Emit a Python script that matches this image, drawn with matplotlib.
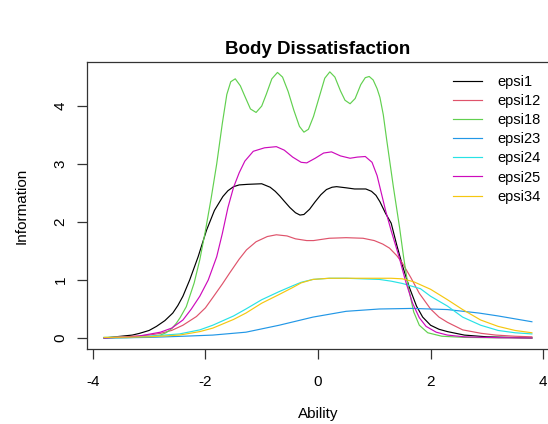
import matplotlib
matplotlib.use("Agg")
import matplotlib.pyplot as plt

# item information curves
x_epsi1 = [-3.8, -3.5, -3.3, -3.17, -3.0, -2.87, -2.72, -2.58, -2.49, -2.4, -2.28, -2.13, -1.98, -1.84,
           -1.69, -1.6, -1.5, -1.4, -1.25, -1.0, -0.85, -0.76, -0.68, -0.6, -0.5, -0.4, -0.32, -0.25,
           -0.15, -0.05, 0.05, 0.15, 0.25, 0.33, 0.5, 0.65, 0.85, 0.95, 1.03, 1.1, 1.2, 1.3, 1.4, 1.5,
           1.62, 1.75, 1.86, 2.0, 2.15, 2.3, 2.6, 3.0, 3.4, 3.8]
y_epsi1 = [0.0, 0.03, 0.05, 0.08, 0.13, 0.2, 0.3, 0.43, 0.56, 0.72, 1.0, 1.4, 1.86, 2.2,
           2.44, 2.54, 2.61, 2.64, 2.65, 2.66, 2.6, 2.53, 2.45, 2.36, 2.25, 2.16, 2.12, 2.13,
           2.22, 2.35, 2.47, 2.56, 2.6, 2.61, 2.59, 2.57, 2.57, 2.53, 2.46, 2.35, 2.15, 1.98, 1.6, 1.25,
           0.88, 0.55, 0.36, 0.22, 0.15, 0.11, 0.05, 0.02, 0.01, 0.0]

x_epsi12 = [-3.8, -3.4, -3.0, -2.8, -2.6, -2.4, -2.16, -2.0, -1.86, -1.7, -1.57, -1.4, -1.27, -1.1, -0.9,
            -0.74, -0.55, -0.4, -0.2, -0.08, 0.2, 0.5, 0.8, 1.0, 1.15, 1.27, 1.4, 1.5, 1.65, 1.8,
            2.0, 2.15, 2.3, 2.57, 2.9, 3.16, 3.5, 3.8]
y_epsi12 = [0.0, 0.02, 0.05, 0.08, 0.13, 0.22, 0.37, 0.52, 0.71, 0.93, 1.12, 1.36, 1.52, 1.66, 1.75,
            1.78, 1.76, 1.71, 1.68, 1.68, 1.72, 1.73, 1.72, 1.68, 1.62, 1.55, 1.42, 1.29, 1.04, 0.77,
            0.5, 0.36, 0.27, 0.14, 0.08, 0.05, 0.03, 0.02]

x_epsi18 = [-3.8, -3.4, -3.0, -2.8, -2.7, -2.6, -2.52, -2.45, -2.34, -2.2, -2.1, -2.0, -1.9, -1.8, -1.7,
            -1.62, -1.55, -1.47, -1.38, -1.3, -1.2, -1.1, -1.0, -0.92, -0.82, -0.72, -0.63, -0.53,
            -0.43, -0.33, -0.25, -0.17, -0.08, 0.02, 0.12, 0.21, 0.3, 0.4, 0.48, 0.57, 0.66, 0.76,
            0.84, 0.91, 0.98, 1.05, 1.1, 1.16, 1.22, 1.34, 1.45, 1.52, 1.6, 1.7, 1.8, 1.95, 2.2,
            2.6, 3.2, 3.8]
y_epsi18 = [0.0, 0.005, 0.02, 0.05, 0.09, 0.16, 0.25, 0.35, 0.54, 0.95, 1.35, 1.85, 2.4, 3.0, 3.7,
            4.2, 4.42, 4.47, 4.35, 4.17, 3.95, 3.89, 4.0, 4.2, 4.47, 4.58, 4.5, 4.25,
            3.93, 3.65, 3.55, 3.6, 3.82, 4.15, 4.48, 4.59, 4.5, 4.26, 4.1, 4.04, 4.13, 4.37,
            4.49, 4.51, 4.45, 4.3, 4.15, 3.85, 3.42, 2.6, 1.9, 1.4, 0.9, 0.45, 0.22, 0.09, 0.03,
            0.01, 0.003, 0.0]

x_epsi23 = [-3.8, -3.0, -2.4, -1.87, -1.28, -0.69, -0.09, 0.5, 1.09, 1.68, 2.3, 2.86, 3.2, 3.5, 3.8]
y_epsi23 = [0.0, 0.01, 0.03, 0.05, 0.1, 0.22, 0.36, 0.46, 0.5, 0.51, 0.49, 0.43, 0.38, 0.33, 0.28]

x_epsi24 = [-3.8, -3.0, -2.46, -2.1, -1.87, -1.5, -1.28, -1.0, -0.69, -0.45, -0.3, -0.09, 0.2, 0.5,
            0.8, 1.09, 1.3, 1.5, 1.82, 2.0, 2.3, 2.57, 2.89, 3.2, 3.5, 3.8]
y_epsi24 = [0.01, 0.03, 0.07, 0.14, 0.22, 0.38, 0.5, 0.66, 0.8, 0.9, 0.96, 1.01, 1.03, 1.03,
            1.02, 1.01, 0.98, 0.94, 0.85, 0.72, 0.55, 0.36, 0.22, 0.13, 0.09, 0.07]

x_epsi25 = [-3.8, -3.2, -2.8, -2.6, -2.4, -2.25, -2.1, -1.95, -1.8, -1.7, -1.6, -1.5, -1.4, -1.3,
            -1.15, -0.95, -0.74, -0.6, -0.45, -0.3, -0.2, -0.05, 0.1, 0.24, 0.4, 0.57, 0.7, 0.84,
            0.96, 1.05, 1.1, 1.2, 1.3, 1.44, 1.55, 1.68, 1.8, 1.92, 2.1, 2.3, 2.6, 3.2, 3.8]
y_epsi25 = [0.0, 0.03, 0.1, 0.17, 0.31, 0.5, 0.72, 1.0, 1.4, 1.8, 2.25, 2.6, 2.85, 3.05,
            3.22, 3.28, 3.3, 3.24, 3.12, 3.03, 3.02, 3.1, 3.19, 3.21, 3.14, 3.1, 3.12, 3.13,
            3.03, 2.8, 2.6, 2.2, 1.85, 1.4, 1.0, 0.6, 0.35, 0.2, 0.1, 0.05, 0.02, 0.005, 0.0]

x_epsi34 = [-3.8, -3.0, -2.46, -2.1, -1.87, -1.5, -1.28, -1.0, -0.69, -0.45, -0.3, -0.09, 0.2, 0.5,
            0.8, 1.09, 1.3, 1.5, 1.7, 2.0, 2.3, 2.57, 2.89, 3.2, 3.5, 3.8]
y_epsi34 = [0.01, 0.02, 0.05, 0.11, 0.17, 0.32, 0.43, 0.6, 0.75, 0.87, 0.95, 1.01, 1.03, 1.03,
            1.03, 1.03, 1.03, 1.02, 0.97, 0.84, 0.66, 0.49, 0.31, 0.2, 0.13, 0.09]

items = ["epsi1", "epsi12", "epsi18", "epsi23", "epsi24", "epsi25", "epsi34"]
xs = [x_epsi1, x_epsi12, x_epsi18, x_epsi23, x_epsi24, x_epsi25, x_epsi34]
ys = [y_epsi1, y_epsi12, y_epsi18, y_epsi23, y_epsi24, y_epsi25, y_epsi34]
colors = ["#000000", "#DF536B", "#61D04F", "#2297E6", "#28E2E5", "#CD0BBC", "#F5C710"]

plt.rcParams["font.family"] = ["Liberation Sans", "DejaVu Sans"]
plt.rcParams["axes.unicode_minus"] = False

fig = plt.figure(figsize=(5.48, 4.24), dpi=100)
ax = fig.add_axes([87 / 548, 75 / 424, 462 / 548, 287 / 424])

for x, y, c, name in zip(xs, ys, colors, items):
    ax.plot(x, y, color=c, lw=0.85, label=name, solid_joinstyle="round")

ax.set_xlim(-4.104, 4.104)
ax.set_ylim(-0.19, 4.76)
ax.set_xticks([-4, -2, 0, 2, 4])
ax.set_yticks([0, 1, 2, 3, 4])
ax.tick_params(direction="out", length=7, width=0.9, color="#333333", labelsize=11)
ax.tick_params(axis="x", pad=12)
ax.tick_params(axis="y", pad=7)
plt.setp(ax.get_yticklabels(), rotation=90, va="center")
for s in ax.spines.values():
    s.set_color("#333333")
    s.set_linewidth(0.9)

ax.set_title("Body Dissatisfaction", fontsize=13.5, fontweight="bold", pad=6)
ax.set_xlabel("Ability", fontsize=11, labelpad=13)
ax.set_ylabel("Information", fontsize=11, labelpad=18)

ax.legend(loc="upper left", bbox_to_anchor=(359 / 462, 0.98), frameon=False, fontsize=10.5,
          handlelength=2.0, handletextpad=1.0, labelspacing=0.35, borderpad=0)

fig.savefig("out.png", dpi=100)
